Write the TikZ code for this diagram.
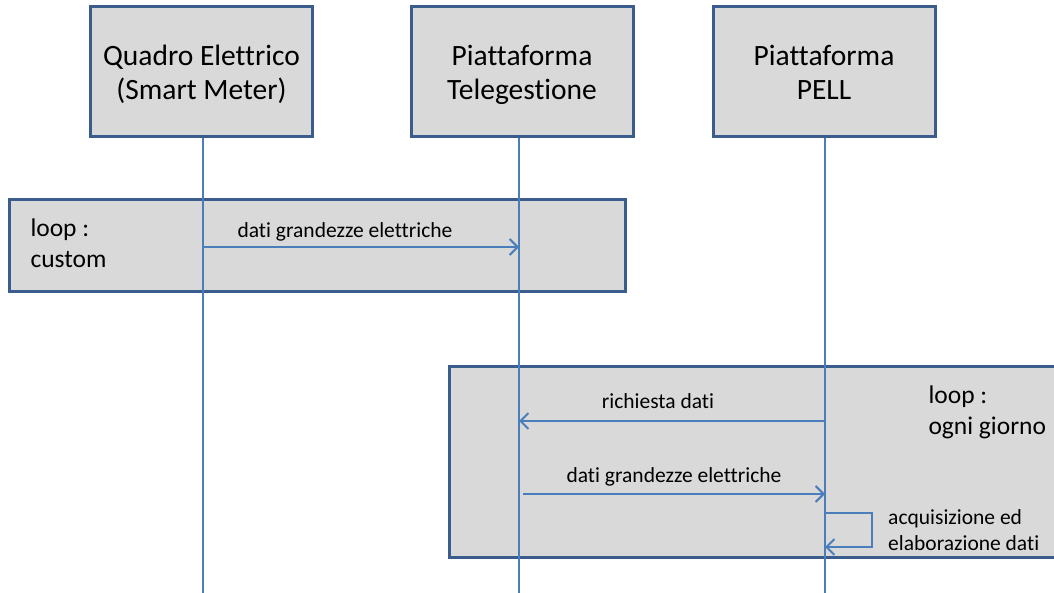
\documentclass[tikz,border=0pt]{standalone}
\usepackage{fontspec}
\setmainfont{Carlito}[Ligatures=NoCommon]
\usetikzlibrary{arrows.meta}
\definecolor{boxgray}{HTML}{D9D9D9}
\definecolor{edgeblue}{HTML}{3A5D8D}
\definecolor{lineblue}{HTML}{4A7EBB}
\newcommand{\twolines}[2]{\begin{tabular}{@{}c@{}}#1\\#2\end{tabular}}

\begin{document}
\begin{tikzpicture}[x=1pt,y=-1pt]
\tikzstyle{actor}=[rectangle, draw=edgeblue, fill=boxgray, line width=3pt, minimum width=222pt, minimum height=130pt, text height=40pt, text depth=20pt, font=\fontsize{29.5}{34}\selectfont]
\tikzstyle{frame}=[draw=edgeblue, fill=boxgray, line width=3pt]
\tikzstyle{life}=[lineblue, line width=2pt]
\tikzstyle{msg}=[lineblue, line width=2pt, -{Straight Barb[length=8pt,width=16pt]}]
\tikzstyle{lbl}=[text=black, font=\fontsize{21.5}{26}\selectfont, inner sep=2pt]
\tikzstyle{looplbl}=[align=left, font=\fontsize{25.5}{31}\selectfont]

\useasboundingbox (0,0) rectangle (1054,593);
\clip (0,0) rectangle (1054,593);

\draw[frame] (9,200) rectangle (625,292);
\draw[frame] (449,366) rectangle (1070,557);

\node[actor] (qe) at (201.5,72) {\twolines{Quadro Elettrico}{(Smart Meter)}};
\node[actor] (tg) at (522,72) {\twolines{Piattaforma}{Telegestione}};
\node[actor] (pell) at (824,72) {\twolines{Piattaforma}{PELL}};

\foreach \a/\dx in {qe/1.5,tg/-3,pell/1} {
\coordinate (\a-top) at ([xshift=\dx pt]\a.south);
\coordinate (\a-end) at (\a-top |- 0,593);
\draw[life] (\a-top) -- (\a-end);
}

\node[looplbl, anchor=west] (loop1) at (27,243) {loop :\\custom};
\node[looplbl, anchor=west] (loop2) at (925,412) {loop :\\ogni giorno};

\coordinate (m1a) at (qe-top |- 0,247);
\coordinate (m1b) at (tg-top |- 0,247);
\draw[msg] (m1a) -- node[lbl, above=3pt, xshift=-16pt] {dati grandezze elettriche} (m1b);

\coordinate (m2a) at (pell-top |- 0,421);
\coordinate (m2b) at (tg-top |- 0,421);
\draw[msg] (m2a) -- node[lbl, above=9pt, xshift=-14pt] {richiesta dati} (m2b);

\coordinate (m3a) at ([xshift=4pt]tg-top |- 0,494);
\coordinate (m3b) at (pell-top |- 0,494);
\draw[msg] (m3a) -- node[lbl, above=5pt] {dati grandezze elettriche} (m3b);

\coordinate (m4a) at (pell-top |- 0,513);
\coordinate (m4b) at (pell-top |- 0,547);
\draw[msg] (m4a) -| (872,530) |- (m4b);
\node[lbl, align=left, anchor=west] (self) at (886,530) {acquisizione ed\\elaborazione dati};
\end{tikzpicture}
\end{document}
